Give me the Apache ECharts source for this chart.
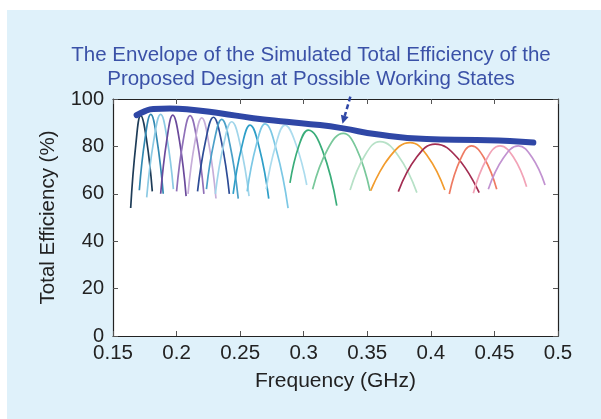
<!DOCTYPE html>
<html><head><meta charset="utf-8">
<script src="https://cdn.jsdelivr.net/npm/echarts@6/dist/echarts.min.js"></script>
<style>html,body{margin:0;padding:0;background:#fff}#c{width:601px;height:419px}</style>
</head><body><div id="c"></div>
<script>
// ---- data ----
const titleLines = ['The Envelope of the Simulated Total Efficiency of the', 'Proposed Design at Possible Working States'];
const xName = 'Frequency (GHz)';
const yName = 'Total Efficiency (%)';
const xTicks = [0.15, 0.2, 0.25, 0.3, 0.35, 0.4, 0.45, 0.5];
const yTicks = [0, 20, 40, 60, 80, 100];

// envelope of the simulated total efficiency
const envFreq = [0.1686, 0.1752, 0.1817, 0.1948, 0.208, 0.2342, 0.2604, 0.2866, 0.3128, 0.3311, 0.3574, 0.3967, 0.4361, 0.4622, 0.4806];
const envEff  = [93.2, 94.9, 95.8, 96.0, 95.7, 94.0, 91.9, 90.4, 89.0, 87.6, 85.1, 83.1, 82.7, 82.3, 81.6];

// individual working-state curves (start, rising, peak, falling, end)
const curveFreq = [
  [0.1639, 0.1679, 0.1718, 0.1764, 0.1809],
  [0.1707, 0.1752, 0.1797, 0.1846, 0.1895],
  [0.1765, 0.1820, 0.1875, 0.1925, 0.1975],
  [0.1875, 0.1923, 0.1970, 0.2023, 0.2075],
  [0.2000, 0.2053, 0.2106, 0.2161, 0.2215],
  [0.2090, 0.2144, 0.2198, 0.2254, 0.2310],
  [0.2165, 0.2228, 0.2290, 0.2353, 0.2415],
  [0.2235, 0.2295, 0.2355, 0.2420, 0.2485],
  [0.2305, 0.2370, 0.2434, 0.2502, 0.2570],
  [0.2445, 0.2512, 0.2578, 0.2652, 0.2725],
  [0.2555, 0.2626, 0.2696, 0.2787, 0.2877],
  [0.2705, 0.2779, 0.2853, 0.2939, 0.3024],
  [0.2892, 0.2964, 0.3036, 0.3148, 0.3260],
  [0.3070, 0.3190, 0.3311, 0.3416, 0.3521],
  [0.3365, 0.3483, 0.3600, 0.3745, 0.3890],
  [0.3527, 0.3682, 0.3836, 0.3973, 0.4110],
  [0.3744, 0.3889, 0.4033, 0.4207, 0.4380],
  [0.4145, 0.4233, 0.4320, 0.4419, 0.4518],
  [0.4334, 0.4439, 0.4544, 0.4649, 0.4753],
  [0.4452, 0.4570, 0.4688, 0.4793, 0.4898]
];
const curveEff = [
  [54.0, 80.5, 93.0, 82.8, 61.0],
  [61.5, 83.3, 93.5, 82.8, 60.0],
  [58.5, 82.3, 93.5, 83.4, 62.0],
  [60.0, 82.6, 93.2, 82.3, 59.0],
  [61.0, 82.8, 93.0, 82.4, 60.0],
  [60.0, 81.8, 92.0, 81.1, 58.0],
  [61.0, 82.3, 92.3, 82.0, 60.0],
  [62.0, 82.0, 91.4, 80.7, 58.0],
  [60.0, 80.7, 90.4, 80.4, 59.0],
  [60.0, 79.7, 89.0, 79.1, 58.0],
  [61.0, 80.4, 89.5, 78.1, 54.0],
  [62.0, 80.4, 89.0, 80.9, 63.7],
  [64.6, 80.6, 86.9, 78.2, 55.0],
  [61.9, 79.0, 85.5, 79.0, 61.3],
  [61.6, 76.4, 82.0, 76.0, 60.5],
  [61.3, 76.0, 81.6, 76.0, 61.6],
  [60.9, 75.5, 81.0, 75.3, 60.5],
  [59.9, 74.6, 80.2, 75.1, 61.9],
  [60.2, 74.7, 80.2, 75.5, 63.0],
  [61.9, 75.1, 80.2, 75.6, 63.7]
];
// annotation arrow (from, to) in data units
const arrowFrom = [0.3367, 101.0];
const arrowTo   = [0.3305, 89.6];

// ---- styles ----
const curveColors = ['#1e3c58','#3389b2','#8ccae4','#6b4a9c','#8f70b8','#c6aed9','#2d4c96','#4ba0c8','#a0d5ea','#2f9fc8','#7cc8e5','#acdcee','#3aad7a','#79c89b','#b7e1c7','#f29c2e','#a32d52','#ee7b63','#f2a3b7','#c293d1'];
const envColor = '#2f47a6';
const FONT = "'Liberation Sans', Arial, Helvetica, sans-serif";

const chart = echarts.init(document.getElementById('c'), null, {renderer: 'canvas'});

const series = curveFreq.map((fs, i) => ({
  type: 'line', xAxisIndex: 0, yAxisIndex: 0,
  data: fs.map((f, j) => [f, curveEff[i][j]]),
  smooth: 0.45, showSymbol: false, symbol: 'none',
  lineStyle: {color: curveColors[i], width: 1.7},
  z: 2, silent: true
}));
series.push({
  type: 'line', data: envFreq.map((f, j) => [f, envEff[j]]),
  smooth: 0.5, showSymbol: false, symbol: 'none',
  lineStyle: {color: envColor, width: 6, cap: 'round', join: 'round'},
  z: 5, silent: true
});

const axisCommon = {
  type: 'value',
  axisLine: {show: true, onZero: false, lineStyle: {color: '#222', width: 1.2}},
  axisTick: {show: true, inside: true, length: 5, lineStyle: {color: '#555', width: 1}},
  splitLine: {show: false}
};

const bgRect = {type: 'rect', shape: {x: 7, y: 10, width: 594, height: 409}, style: {fill: '#dff1fa'}, z: -10, silent: true};
const titleText = {type: 'text', x: 311, y: 43, z: 10, style: {text: titleLines.join('\n'), fill: '#3a51a7', font: '20.5px ' + FONT, textAlign: 'center', lineHeight: 24}};

chart.setOption({
  animation: false,
  backgroundColor: '#ffffff',
  graphic: [bgRect, titleText],
  grid: {left: 113, top: 99, width: 445, height: 237, show: true, backgroundColor: '#ffffff', borderWidth: 0},
  xAxis: [
    Object.assign({}, axisCommon, {
      min: xTicks[0], max: xTicks[xTicks.length - 1], interval: 0.05, position: 'bottom',
      axisLabel: {fontSize: 20.5, color: '#222', margin: 7, fontFamily: FONT,
        formatter: v => String(parseFloat(v.toFixed(2)))},
      name: xName, nameLocation: 'middle', nameGap: 35,
      nameTextStyle: {fontSize: 21, color: '#222', fontFamily: FONT}
    }),
    Object.assign({}, axisCommon, {
      min: xTicks[0], max: xTicks[xTicks.length - 1], interval: 0.05, position: 'top',
      axisLabel: {show: false}
    })
  ],
  yAxis: [
    Object.assign({}, axisCommon, {
      min: yTicks[0], max: yTicks[yTicks.length - 1], interval: 20, position: 'left',
      axisLabel: {fontSize: 20, color: '#222', margin: 9, fontFamily: FONT},
      name: yName, nameLocation: 'middle', nameGap: 54, nameRotate: 90,
      nameTextStyle: {fontSize: 20.5, color: '#222', fontFamily: FONT}
    }),
    Object.assign({}, axisCommon, {
      min: yTicks[0], max: yTicks[yTicks.length - 1], interval: 20, position: 'right',
      axisLabel: {show: false}
    })
  ],
  series: series
});

// annotation arrow
const p0 = chart.convertToPixel({xAxisIndex: 0, yAxisIndex: 0}, arrowFrom);
const p1 = chart.convertToPixel({xAxisIndex: 0, yAxisIndex: 0}, arrowTo);
const dx = p1[0] - p0[0], dy = p1[1] - p0[1];
const L = Math.sqrt(dx * dx + dy * dy), ux = dx / L, uy = dy / L;
const headLen = 8, headW = 4;
const base = [p1[0] - ux * headLen, p1[1] - uy * headLen];
chart.setOption({
  graphic: [
    bgRect, titleText,
    {type: 'line', z: 20, shape: {x1: p0[0], y1: p0[1], x2: base[0], y2: base[1]},
      style: {stroke: envColor, lineWidth: 2.5, lineDash: [5, 3]}},
    {type: 'polygon', z: 20, shape: {points: [
      p1,
      [base[0] - uy * headW, base[1] + ux * headW],
      [base[0] + uy * headW, base[1] - ux * headW]
    ]}, style: {fill: envColor}}
  ]
});
</script></body></html>
